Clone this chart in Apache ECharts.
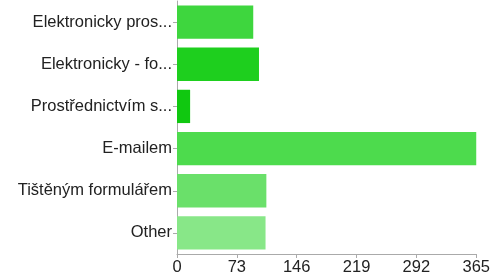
<!DOCTYPE html>
<html>
<head>
    <meta charset="utf-8">
    <title>Chart</title>
    <script src="https://cdn.jsdelivr.net/npm/echarts@6/dist/echarts.min.js"></script>
    <style>
        html, body { margin: 0; padding: 0; background: #fff; }
        #chart { width: 493px; height: 278px; }
    </style>
</head>
<body>
    <div id="chart"></div>
    <script type="text/javascript">
        var categories = ['Elektronicky pros...', 'Elektronicky - fo...', 'Prostřednictvím s...', 'E-mailem', 'Tištěným formulářem', 'Other'];
        var values = [93, 100, 16, 365, 109, 108];
        var colors = ['#3ed63e', '#1ecf1e', '#10c810', '#4ddb4d', '#6ae06a', '#88e788'];
        var ticks = [0, 73, 146, 219, 292, 365];

        var chart = echarts.init(document.getElementById('chart'), null, { renderer: 'canvas' });
        chart.setOption({
            animation: false,
            grid: { left: 177, right: 15, top: 1, bottom: 24, containLabel: false },
            xAxis: {
                type: 'value',
                min: ticks[0],
                max: ticks[ticks.length - 1],
                interval: 73,
                axisLine: { show: true, lineStyle: { color: '#aaa' } },
                axisTick: { show: true, length: 4, lineStyle: { color: '#aaa' } },
                splitLine: { show: false },
                axisLabel: { color: '#222', fontSize: 16.5, fontFamily: 'Liberation Sans', margin: 5 }
            },
            yAxis: {
                type: 'category',
                inverse: true,
                data: categories,
                axisLine: { show: true, lineStyle: { color: '#aaa' } },
                axisTick: { show: true, length: 4, alignWithLabel: true, lineStyle: { color: '#aaa' } },
                axisLabel: { color: '#222', fontSize: 16.5, fontFamily: 'Liberation Sans', margin: 5 }
            },
            series: [{
                type: 'bar',
                barCategoryGap: '21%',
                data: values.map(function (v, i) {
                    return { value: v, itemStyle: { color: colors[i] } };
                })
            }]
        });
    </script>
</body>
</html>
